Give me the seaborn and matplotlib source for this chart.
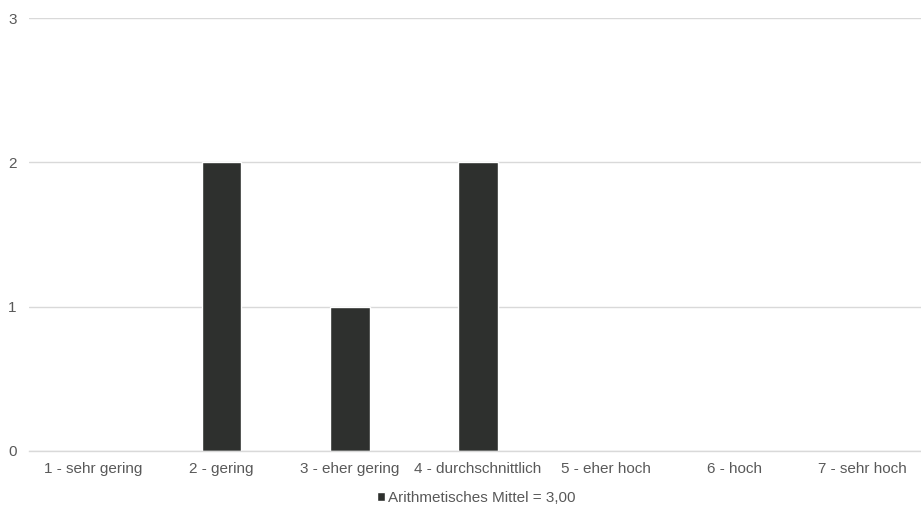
import matplotlib
matplotlib.use("Agg")
import matplotlib.pyplot as plt
import seaborn as sns

categories = ["1 - sehr gering", "2 - gering", "3 - eher gering", "4 - durchschnittlich",
              "5 - eher hoch", "6 - hoch", "7 - sehr hoch"]
counts = [0, 2, 1, 2, 0, 0, 0]
legend_label = "Arithmetisches Mittel = 3,00"
y_ticks = [0, 1, 2, 3]

sns.set_theme(style="white")
plt.rcParams["font.family"] = ["Liberation Sans", "DejaVu Sans"]
text_color = "#595959"
grid_color = "#d9d9d9"
bar_color = "#2e302e"

fig = plt.figure(figsize=(9.21, 5.09), dpi=100)
# plot area runs slightly past the right edge, as in the reference
ax = fig.add_axes([29 / 921, 0.114, 898 / 921, 0.8506])

sns.barplot(x=categories, y=counts, color=bar_color, width=0.31,
            saturation=1, label=legend_label, ax=ax)

ax.set_ylim(0, 3)
ax.set_yticks(y_ticks)
ax.set_xlim(-0.5, len(categories) - 0.5)
ax.yaxis.grid(True, color=grid_color, linewidth=1)
ax.set_axisbelow(True)
for side in ["top", "right", "left"]:
    ax.spines[side].set_visible(False)
ax.spines["bottom"].set_color(grid_color)
ax.spines["bottom"].set_linewidth(1)
ax.tick_params(axis="both", length=0, labelsize=11, labelcolor=text_color)
ax.tick_params(axis="y", pad=9)
ax.tick_params(axis="x", pad=8)
ax.set_xlabel("")
ax.set_ylabel("")

ax.legend(loc="upper center", bbox_to_anchor=(0.498, -0.06), frameon=False,
          handlelength=0.55, handleheight=0.55, handletextpad=0.2,
          fontsize=11, labelcolor=text_color)

fig.savefig("out.png", dpi=100)
